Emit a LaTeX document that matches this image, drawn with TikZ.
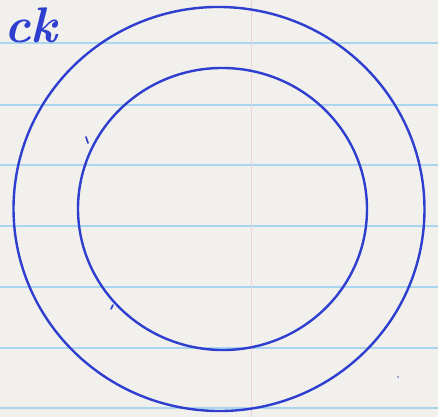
\documentclass[tikz,border=0pt]{standalone}
\begin{document}
\begin{tikzpicture}[x=1pt,y=1pt,
  ink/.style={draw=inkblue,line width=2.4pt,line cap=round},
  rule/.style={draw=ruleblue,line width=2.2pt},
  margin/.style={draw=marginpink,line width=1pt}]
\definecolor{paper}{HTML}{F1F0EC}
\definecolor{ruleblue}{HTML}{A9D5EE}
\definecolor{marginpink}{HTML}{EED3DC}
\definecolor{inkblue}{HTML}{2E3FCF}
\fill[paper] (0,0) rectangle (438,417);
\useasboundingbox (0,0) rectangle (438,417);
% ruled lines
\foreach \py in {43,105,165,226,287,348,408}{
  \draw[rule] (0,417-\py) -- (438,417-\py);
}
% margin line
\draw[margin] (251,0) -- (251,417);
% handwritten text
\node[text=inkblue,font=\itshape\bfseries\fontsize{50}{50}\selectfont,anchor=base west,inner sep=0pt] (word) at (4,374) {ck};
% outer circle
\draw[ink,rotate around={-4:(219,208)}] (219,208) ellipse [x radius=205.5,y radius=202];
% inner circle
\draw[ink,rotate around={-3:(222.5,208)}] (222.5,208) ellipse [x radius=144.5,y radius=141];
% small pen ticks
\draw[ink,line width=1.6pt] (86,280) -- (88,274);
\draw[ink,line width=1.6pt] (111,108) -- (113,112);
\fill[inkblue!60!gray] (398,40) circle (0.8);
\end{tikzpicture}
\end{document}
